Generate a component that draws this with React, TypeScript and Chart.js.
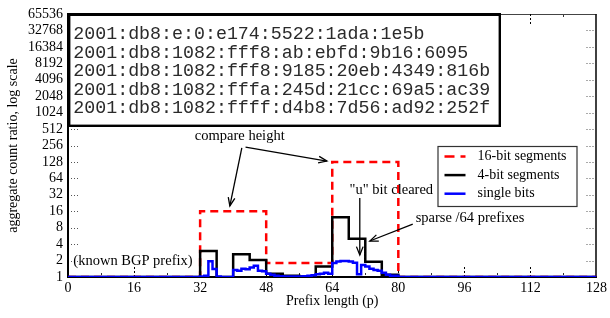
import React, { useEffect, useRef } from 'react';
import { Chart, registerables } from 'chart.js';

Chart.register(...registerables);

// ---------- data ----------
const xTicks = [0, 16, 32, 48, 64, 80, 96, 112, 128];
const yTicks = [1, 2, 4, 8, 16, 32, 64, 128, 256, 512, 1024, 2048, 4096, 8192, 16384, 32768, 65536];

const seriesLabels = ['16-bit segments', '4-bit segments', 'single bits'];
const seriesColors = ['#ff0000', '#000000', '#0000ff'];

// one value per 16-bit segment (prefix 0-16, 16-32, ...)
const segment16Values = [1, 1, 16, 1.8, 128, 1, 1, 1];

// one value per 4-bit segment
const segment4Values = [
  1, 1, 1, 1, 1, 1, 1, 1,
  3.0, 1, 2.6, 2.05, 1.15, 1.05, 1.02, 1.55,
  12.4, 5.0, 1.9, 1.1, 1, 1, 1, 1,
  1, 1, 1, 1, 1, 1, 1, 1,
];

// one value per bit
const singleBitValues = [
  1, 1, 1, 1, 1, 1, 1, 1, 1, 1, 1, 1, 1, 1, 1, 1,
  1, 1, 1, 1, 1, 1, 1, 1, 1, 1, 1, 1, 1, 1, 1, 1,
  1.02, 1.05, 1.95, 1.4, 1.02, 1, 1, 1, 1.35, 1.3, 1.42, 1.38, 1.5, 1.6, 1.3, 1.28,
  1.15, 1.1, 1.05, 1.03, 1.02, 1.02, 1.02, 1.02, 1.02, 1.03, 1.05, 1.08, 1.12, 1.15, 1.2, 1.15,
  1.8, 1.92, 1.97, 1.97, 1.93, 1.82, 1.12, 1.65, 1.55, 1.42, 1.35, 1.3, 1.2, 1.1, 1.05, 1.05,
  1, 1, 1, 1, 1, 1, 1, 1, 1, 1, 1, 1, 1, 1, 1, 1,
  1, 1, 1, 1, 1, 1, 1, 1, 1, 1, 1, 1, 1, 1, 1, 1,
  1, 1, 1, 1, 1, 1, 1, 1, 1, 1, 1, 1, 1, 1, 1, 1,
];

const addressLines = [
  '2001:db8:e:0:e174:5522:1ada:1e5b',
  '2001:db8:1082:fff8:ab:ebfd:9b16:6095',
  '2001:db8:1082:fff8:9185:20eb:4349:816b',
  '2001:db8:1082:fffa:245d:21cc:69a5:ac39',
  '2001:db8:1082:ffff:d4b8:7d56:ad92:252f',
];

// annotation texts in data coordinates (x = prefix length, y = ratio)
const noteTexts = [
  { text: 'compare height', x: 41.6, y: 383, align: 'center' },
  { text: '"u" bit cleared', x: 68.2, y: 39, align: 'left' },
  { text: 'sparse /64 prefixes', x: 84.2, y: 12, align: 'left' },
  { text: '(known BGP prefix)', x: 1.3, y: 1.96, align: 'left' },
];
const noteArrows = [
  { x1: 42.1, y1: 231, x2: 39.2, y2: 20 },
  { x1: 43.0, y1: 239, x2: 62.7, y2: 133 },
  { x1: 70.67, y1: 28, x2: 70.67, y2: 2.53 },
  { x1: 83.5, y1: 9.3, x2: 73.1, y2: 4.56 },
];

const toSteps = (values: number[], width: number) =>
  values
    .map((v, i) => ({ x: i * width, y: v }))
    .concat([{ x: values.length * width, y: values[values.length - 1] }]);

const SERIF = '"Liberation Serif", "Times New Roman", serif';
const MONO = '"Liberation Mono", "Courier New", monospace';
const RED_DASH = [8, 5];

const decorations = {
  id: 'decorations',
  beforeDatasetsDraw(chart: any) {
    const { ctx, chartArea: a, scales } = chart;
    const x = scales.x;
    const y = scales.y;
    const seg = (x1: number, y1: number, x2: number, y2: number) => {
      ctx.beginPath();
      ctx.moveTo(x1, y1);
      ctx.lineTo(x2, y2);
      ctx.stroke();
    };
    ctx.save();
    // frame
    ctx.strokeStyle = '#444';
    ctx.lineWidth = 1.2;
    seg(a.left, a.top + 0.5, a.right, a.top + 0.5);
    ctx.strokeStyle = '#111';
    ctx.lineWidth = 1.6;
    seg(a.right - 0.5, a.top, a.right - 0.5, a.bottom);

    // y dotted ticks (left and right)
    ctx.strokeStyle = '#555';
    ctx.lineWidth = 1;
    ctx.setLineDash([1, 2]);
    yTicks.slice(1, -1).forEach((v) => {
      const py = Math.round(y.getPixelForValue(v)) + 0.5;
      seg(a.left + 3, py, a.left + 10, py);
      seg(a.right - 10, py, a.right - 3, py);
    });

    // x major dashed ticks
    ctx.strokeStyle = '#000';
    ctx.setLineDash([2, 2]);
    xTicks.slice(1, -1).forEach((v) => {
      const px = Math.round(x.getPixelForValue(v)) + 0.5;
      seg(px, a.bottom, px, a.bottom - 11);
      seg(px, a.top, px, a.top + 11);
    });
    // x minor ticks (midpoints)
    ctx.setLineDash([]);
    ctx.strokeStyle = '#333';
    for (let i = 0; i < xTicks.length - 1; i++) {
      const px = Math.round(x.getPixelForValue((xTicks[i] + xTicks[i + 1]) / 2)) + 0.5;
      seg(px, a.bottom - 2, px, a.bottom - 4);
      seg(px, a.top + 1, px, a.top + 3);
    }
    ctx.restore();
  },
  afterDraw(chart: any) {
    const { ctx, chartArea: a, scales } = chart;
    const x = scales.x;
    const y = scales.y;
    ctx.save();

    // annotations
    ctx.fillStyle = '#000';
    ctx.font = `14.5px ${SERIF}`;
    ctx.textBaseline = 'middle';
    noteTexts.forEach((n) => {
      ctx.textAlign = n.align;
      ctx.fillText(n.text, x.getPixelForValue(n.x), y.getPixelForValue(n.y));
    });
    ctx.strokeStyle = '#000';
    ctx.lineWidth = 1.3;
    noteArrows.forEach((ar) => {
      const x1 = x.getPixelForValue(ar.x1);
      const y1 = y.getPixelForValue(ar.y1);
      const x2 = x.getPixelForValue(ar.x2);
      const y2 = y.getPixelForValue(ar.y2);
      ctx.beginPath();
      ctx.moveTo(x1, y1);
      ctx.lineTo(x2, y2);
      ctx.stroke();
      const ang = Math.atan2(y2 - y1, x2 - x1);
      const L = 9;
      const w = 0.38;
      ctx.beginPath();
      ctx.moveTo(x2 - L * Math.cos(ang - w), y2 - L * Math.sin(ang - w));
      ctx.lineTo(x2, y2);
      ctx.lineTo(x2 - L * Math.cos(ang + w), y2 - L * Math.sin(ang + w));
      ctx.stroke();
    });

    // address box
    const bx = a.left;
    const by = a.top - 1;
    const bw = 433;
    const bh = 114;
    ctx.fillStyle = '#fff';
    ctx.fillRect(bx, by, bw, bh);
    ctx.strokeStyle = '#000';
    ctx.lineWidth = 2.4;
    ctx.strokeRect(bx + 1.2, by + 1.5, bw - 2.4, bh - 2.7);
    ctx.lineWidth = 3;
    ctx.beginPath();
    ctx.moveTo(bx, by + 1.5);
    ctx.lineTo(bx + bw, by + 1.5);
    ctx.stroke();
    ctx.fillStyle = '#2a2a2a';
    ctx.font = `18.3px ${MONO}`;
    ctx.textAlign = 'left';
    ctx.textBaseline = 'alphabetic';
    addressLines.forEach((t, i) => {
      ctx.fillText(t, bx + 5.3, a.top + 25 + i * 18.6);
    });

    // legend
    const lx = a.right - 159;
    const ly = a.top + 132;
    const lw = 139;
    const lh = 60;
    ctx.fillStyle = '#fff';
    ctx.fillRect(lx, ly, lw, lh);
    ctx.strokeStyle = '#333';
    ctx.lineWidth = 1.2;
    ctx.strokeRect(lx + 0.5, ly + 0.5, lw, lh);
    ctx.font = `14px ${SERIF}`;
    ctx.textBaseline = 'middle';
    seriesLabels.forEach((lab, i) => {
      const yy = ly + 10.5 + i * 18.6;
      ctx.strokeStyle = seriesColors[i];
      ctx.lineWidth = 2.5;
      ctx.setLineDash(i === 0 ? [10, 6] : []);
      ctx.beginPath();
      ctx.moveTo(lx + 7, yy);
      ctx.lineTo(lx + 28, yy);
      ctx.stroke();
      ctx.setLineDash([]);
      ctx.fillStyle = '#000';
      ctx.fillText(lab, lx + 40, yy);
    });
    ctx.restore();
  },
};

export default function App() {
  const ref = useRef<HTMLCanvasElement | null>(null);
  useEffect(() => {
    if (!ref.current) return;
    const chart = new Chart(ref.current, {
      type: 'line',
      data: {
        datasets: [
          {
            label: seriesLabels[2],
            data: toSteps(singleBitValues, 1),
            borderColor: seriesColors[2],
            borderWidth: 2.5,
            stepped: true,
            pointRadius: 0,
            fill: false,
            order: 0,
          },
          {
            label: seriesLabels[1],
            data: toSteps(segment4Values, 4),
            borderColor: seriesColors[1],
            borderWidth: 2.5,
            stepped: true,
            pointRadius: 0,
            fill: false,
            order: 1,
          },
          {
            label: seriesLabels[0],
            data: toSteps(segment16Values, 16),
            borderColor: seriesColors[0],
            borderWidth: 2.5,
            borderDash: RED_DASH,
            stepped: true,
            pointRadius: 0,
            fill: false,
            order: 2,
          },
        ],
      },
      options: {
        responsive: false,
        animation: false,
        devicePixelRatio: 1,
        layout: { padding: { top: 14, right: 13, left: 0, bottom: 0 } },
        plugins: {
          legend: { display: false },
          tooltip: { enabled: false },
          title: { display: false },
        },
        scales: {
          x: {
            type: 'linear',
            min: 0,
            max: 128,
            afterBuildTicks: (s: any) => {
              s.ticks = xTicks.map((v) => ({ value: v }));
            },
            afterFit: (s: any) => {
              s.height = 41;
            },
            ticks: {
              autoSkip: false,
              maxRotation: 0,
              padding: 3,
              color: '#000',
              font: { family: SERIF, size: 14 },
              callback: (v: any) => String(v),
            },
            grid: { drawOnChartArea: false, drawTicks: false, color: 'rgba(0,0,0,0)' },
            border: { display: true, color: '#000', width: 2 },
            title: {
              display: true,
              text: 'Prefix length (p)',
              color: '#000',
              font: { family: SERIF, size: 14 },
              padding: { top: 0, bottom: 8 },
            },
          },
          y: {
            type: 'logarithmic',
            min: 1,
            max: 65536,
            afterBuildTicks: (s: any) => {
              s.ticks = yTicks.map((v) => ({ value: v }));
            },
            afterFit: (s: any) => {
              s.width = 68;
            },
            ticks: {
              autoSkip: false,
              padding: 5,
              color: '#000',
              font: { family: SERIF, size: 14 },
              callback: (v: any) => String(v),
            },
            grid: { drawOnChartArea: false, drawTicks: false, color: 'rgba(0,0,0,0)' },
            border: { display: true, color: '#000', width: 2 },
            title: {
              display: true,
              text: 'aggregate count ratio, log scale',
              color: '#000',
              font: { family: SERIF, size: 14 },
              padding: { top: 5, bottom: 0 },
            },
          },
        },
      },
      plugins: [decorations as any],
    });
    return () => chart.destroy();
  }, []);
  return (
    <div style={{ position: 'fixed', left: 0, top: 0, width: 610, height: 318, background: '#fff' }}>
      <canvas ref={ref} width={610} height={318} style={{ display: 'block' }} />
    </div>
  );
}
